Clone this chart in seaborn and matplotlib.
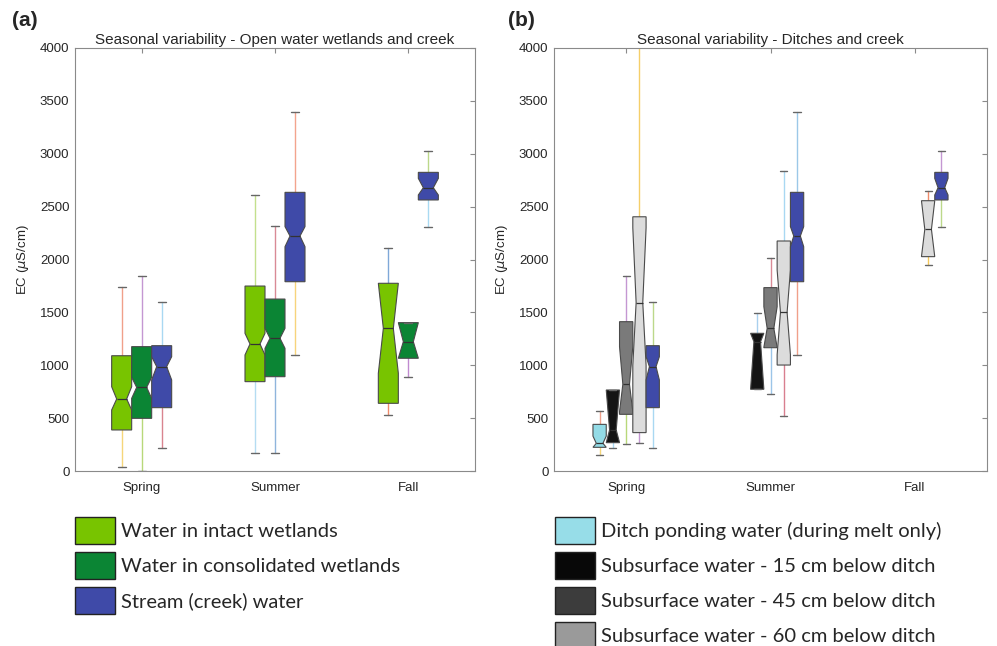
import matplotlib
matplotlib.use("Agg")
import matplotlib.pyplot as plt
from matplotlib.patches import Patch
import seaborn as sns

sns.set_theme(style="white")
plt.rcParams['font.family'] = ['Liberation Sans', 'DejaVu Sans']

# ---------------- data (EC, uS/cm) ----------------
seasons = ["Spring", "Summer", "Fall"]
# each entry: [whislo, q1, cilo, med, cihi, q3, whishi]; None = no sample
intact_wet = [[35, 388, 577, 681, 797, 1090, 1743],
              [173, 845, 1097, 1201, 1302, 1749, 2610],
              [530, 640, 924, 1349, 1775, 1775, 2106]]
consol_wet = [[0, 498, 687, 791, 886, 1176, 1844],
              [173, 892, 1160, 1255, 1349, 1626, 2317],
              [886, 1066, 1066, 1223, 1403, 1403, 1403]]
stream = [[221, 599, 861, 987, 1081, 1185, 1601],
          [1097, 1790, 2121, 2222, 2311, 2635, 3392],
          [2304, 2563, 2610, 2679, 2767, 2824, 3029]]
ponding = [[151, 224, 224, 262, 330, 441, 567], None, None]
sub15 = [[221, 268, 268, 388, 766, 766, 766],
         [773, 773, 773, 1223, 1302, 1302, 1491], None]
sub45 = [[252, 536, 560, 820, 1176, 1412, 1847],
         [725, 1166, 1170, 1349, 1554, 1734, 2018], None]
sub60 = [[268, 363, 1000, 1592, 2300, 2404, 4300],
         [520, 1002, 1100, 1500, 1900, 2175, 2840],
         [1948, 2027, 2027, 2285, 2556, 2556, 2648]]

labels_a = ["Water in intact wetlands", "Water in consolidated wetlands",
            "Stream (creek) water"]
labels_b = ["Ditch ponding water (during melt only)",
            "Subsurface water - 15 cm below ditch",
            "Subsurface water - 45 cm below ditch",
            "Subsurface water - 60 cm below ditch"]

# whisker colours (lower, upper) per box
wc_a = {
    "intact": [("#f5d67a", "#f0a08a"), ("#b5dcf2", "#c3e08d"), ("#ef8a6a", "#7fa8d8")],
    "consol": [("#b8d87a", "#c497d2"), ("#8fb5dc", "#d98a96"), ("#c08ad0", "#c08ad0")],
    "stream": [("#d9848f", "#a9d8f2"), ("#f7d47c", "#f3a48e"), ("#a9daf2", "#bcd88a")],
}
wc_b = {
    "ponding": [("#f5d67a", "#f0a08a"), None, None],
    "sub15": [("#a9d8f2", "#a9d8f2"), ("#a9d0ee", "#a9d0ee"), None],
    "sub45": [("#b8d87a", "#c497d2"), ("#9cc5e8", "#d98a96"), None],
    "sub60": [("#c497d2", "#f5cf6a"), ("#d97f8f", "#a9d8f2"), ("#f5c85a", "#ef8a6a")],
    "stream": [("#a9d8f2", "#bcd88a"), ("#f0a08a", "#9cc8e8"), ("#bcd88a", "#c497d2")],
}

fill_a = {"intact": "#78c400", "consol": "#0b8534", "stream": "#3f4aa8"}
fill_b = {"ponding": "#93dbe6", "sub15": "#141414", "sub45": "#7a7a7a",
          "sub60": "#dcdcdc", "stream": "#3f4aa8"}
legend_a_colors = ["#78c400", "#0b8534", "#3f4aa8"]
legend_b_colors = ["#97dde8", "#080808", "#3c3c3c", "#9a9a9a"]

fig = plt.figure(figsize=(9.97, 6.46), dpi=100)
ax_a = fig.add_axes([75/997, 1-471/646, 400/997, 423/646])
ax_b = fig.add_axes([554/997, 1-471/646, 433/997, 423/646])

keys = ["whislo", "q1", "cilo", "med", "cihi", "q3", "whishi"]


def draw_series(ax, data, offset, width, face, wcols, capw):
    for i, s in enumerate(data):
        if s is None:
            continue
        st = dict(zip(keys, s))
        st["fliers"] = []
        r = ax.bxp([st], positions=[i + 1 + offset], widths=[width],
                   shownotches=True, patch_artist=True, showfliers=False,
                   capwidths=[capw], manage_ticks=False,
                   boxprops=dict(facecolor=face, edgecolor="#4a4a4a", linewidth=0.8),
                   medianprops=dict(color="#333333", linewidth=0.9),
                   whiskerprops=dict(linewidth=1.0),
                   capprops=dict(color="#666666", linewidth=1.0))
        lo, hi = wcols[i]
        r["whiskers"][0].set_color(lo)
        r["whiskers"][1].set_color(hi)
        for w in r["whiskers"]:
            w.set_zorder(1)


wa = 0.15
for j, key in enumerate(["intact", "consol", "stream"]):
    data = {"intact": intact_wet, "consol": consol_wet, "stream": stream}[key]
    draw_series(ax_a, data, (j - 1) * wa, wa, fill_a[key], wc_a[key], 0.06)

wb = 0.092
for j, key in enumerate(["ponding", "sub15", "sub45", "sub60", "stream"]):
    data = {"ponding": ponding, "sub15": sub15, "sub45": sub45,
            "sub60": sub60, "stream": stream}[key]
    draw_series(ax_b, data, (j - 2) * wb, wb, fill_b[key], wc_b[key], 0.05)

titles = ["Seasonal variability - Open water wetlands and creek",
          "Seasonal variability - Ditches and creek"]
for ax, t in zip([ax_a, ax_b], titles):
    ax.set_xlim(0.5, 3.5)
    ax.set_ylim(0, 4000)
    ax.set_yticks(range(0, 4001, 500))
    ax.set_xticks([1, 2, 3])
    ax.set_xticklabels(seasons)
    ax.tick_params(direction="in", length=3.5, width=0.8, color="#8a8a8a",
                   top=True, right=True, labelsize=9.5, labelcolor="#262626",
                   pad=4)
    ax.tick_params(axis="x", pad=8)
    for sp in ax.spines.values():
        sp.set_color("#8a8a8a")
        sp.set_linewidth(0.8)
    ax.set_title(t, fontsize=11, color="#262626", pad=3)
    ax.set_ylabel(r"EC ($\mu$S/cm)", fontsize=9.5, color="#262626", labelpad=6)
    ax.grid(False)

fig.text(12/997, 1-20/646, "(a)", fontsize=15, fontweight="bold", va="center")
fig.text(508/997, 1-20/646, "(b)", fontsize=15, fontweight="bold", va="center")

leg_font = dict(family=['Lato', 'DejaVu Sans'], size=14.5)
h_a = [Patch(facecolor=c, edgecolor="#222222", linewidth=1.0) for c in legend_a_colors]
h_b = [Patch(facecolor=c, edgecolor="#222222", linewidth=1.0) for c in legend_b_colors]
for hs, labs, x in [(h_a, labels_a, 75/997), (h_b, labels_b, 555/997)]:
    fig.legend(hs, labs, loc="upper left", bbox_to_anchor=(x, 1-517/646),
               frameon=False, prop=leg_font, handlelength=2.0, handleheight=1.7,
               labelspacing=0.38, handletextpad=0.3, borderpad=0,
               borderaxespad=0)

fig.savefig("out.png", dpi=100)
